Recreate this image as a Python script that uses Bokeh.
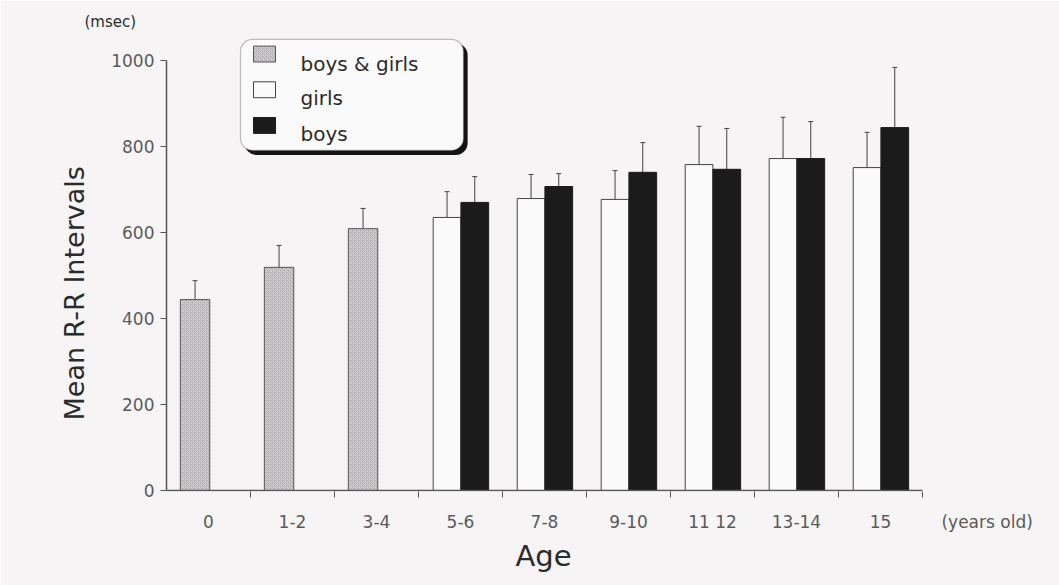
from bokeh.plotting import figure
from bokeh.models import (Range1d, FixedTicker, CustomJSTickFormatter, Whisker,
                          ColumnDataSource, TeeHead, BoxAnnotation, Title)
from bokeh.core.properties import value
from bokeh.embed import file_html
from bokeh.resources import INLINE

# Age groups (one slot each on the x axis)
age_groups = ["0", "1-2", "3-4", "5-6", "7-8", "9-10", "11 12", "13-14", "15"]
age_unit = "(years old)"

# Mean R-R intervals (msec) and SD, ages 0-4: boys and girls together
mixed_idx = [0, 1, 2]
mixed_mean = [444, 519, 609]
mixed_sd = [44, 51, 47]

# Ages 5-15: girls and boys separately
split_idx = [3, 4, 5, 6, 7, 8]
girls_mean = [635, 679, 677, 758, 772, 751]
girls_sd = [60, 56, 67, 89, 96, 82]
boys_mean = [670, 707, 740, 747, 772, 844]
boys_sd = [60, 30, 69, 95, 86, 140]

y_ticks = [0, 200, 400, 600, 800, 1000]
legend_labels = ["boys & girls", "girls", "boys"]

FONT = "DejaVu Sans"
BG = "#f6f4f5"
INK = "#2b2b2b"
GREY_TXT = "#5a5a5a"
AXIS = "#555555"

n = len(age_groups)

p = figure(width=1059, height=585, output_backend="svg", toolbar_location=None,
           x_range=Range1d(0, 10.524), y_range=Range1d(-2.3, 1069.8),
           min_border_left=166, min_border_right=9, min_border_top=30,
           min_border_bottom=94)
p.background_fill_color = BG
p.border_fill_color = BG
p.outline_line_color = None
p.grid.visible = False

# bar positions inside each slot
mixed_x = [i + 0.34 for i in mixed_idx]
girls_x = [i + 0.34 for i in split_idx]
boys_x = [i + 0.67 for i in split_idx]

src_mixed = ColumnDataSource(dict(x=mixed_x, top=mixed_mean,
                                  up=[m + s for m, s in zip(mixed_mean, mixed_sd)]))
src_girls = ColumnDataSource(dict(x=girls_x, top=girls_mean,
                                  up=[m + s for m, s in zip(girls_mean, girls_sd)]))
src_boys = ColumnDataSource(dict(x=boys_x, top=boys_mean,
                                 up=[m + s for m, s in zip(boys_mean, boys_sd)]))

# SD whiskers (upper side only)
for src in (src_mixed, src_girls, src_boys):
    p.add_layout(Whisker(source=src, base="x", lower="top", upper="up",
                         dimension="height", line_color="#444444", line_width=1,
                         upper_head=TeeHead(size=5, line_color="#444444",
                                            line_width=1),
                         lower_head=None))

mixed_style = dict(fill_color="#b5b3b5", line_color="#555555", line_width=1,
                   hatch_pattern="diagonal_cross", hatch_color="#d8d6d8",
                   hatch_scale=4, hatch_weight=1)
girls_style = dict(fill_color="#fbfafa", line_color="#444444", line_width=1)
boys_style = dict(fill_color="#1c1b1c", line_color="#1c1b1c", line_width=1)

p.vbar(x="x", top="top", bottom=0, width=0.35, source=src_mixed, **mixed_style)
p.vbar(x="x", top="top", bottom=0, width=0.33, source=src_girls, **girls_style)
p.vbar(x="x", top="top", bottom=0, width=0.33, source=src_boys, **boys_style)

# baseline of the age axis (covers the age slots only)
p.segment(x0=[0], y0=[0], x1=[n], y1=[0], line_color=AXIS, line_width=1.5)

# x axis: labels centred in each slot, unit note after the last slot,
# small ticks at slot boundaries
x_tick_pos = [i + 0.5 for i in range(n)] + [9.77]
x_tick_txt = age_groups + [age_unit]
xa = p.xaxis[0]
xa.ticker = FixedTicker(ticks=x_tick_pos, minor_ticks=list(range(1, n + 1)))
xa.formatter = CustomJSTickFormatter(
    args=dict(pos=x_tick_pos, txt=x_tick_txt),
    code="""
        let best = 0;
        for (let i = 1; i < pos.length; i++)
            if (Math.abs(pos[i] - tick) < Math.abs(pos[best] - tick)) best = i;
        return txt[best];
    """)
xa.axis_line_color = None
xa.major_tick_line_color = None
xa.major_tick_out = 0
xa.minor_tick_out = 6
xa.minor_tick_in = 0
xa.minor_tick_line_color = AXIS
xa.major_label_standoff = 14
xa.major_label_text_font = FONT
xa.major_label_text_font_size = "17px"
xa.major_label_text_color = GREY_TXT

ya = p.yaxis[0]
ya.ticker = FixedTicker(ticks=y_ticks, minor_ticks=[])
ya.bounds = (0, 1000)
ya.major_tick_out = 6
ya.major_tick_in = 0
ya.major_tick_line_color = AXIS
ya.axis_line_color = AXIS
ya.axis_line_width = 1.5
ya.major_label_standoff = 6
ya.major_label_text_font = FONT
ya.major_label_text_font_size = "17px"
ya.major_label_text_color = GREY_TXT

# axis titles and unit note
p.add_layout(Title(text="Mean R-R Intervals", align="left", offset=71,
                   standoff=38, text_font=FONT, text_font_size="27px",
                   text_font_style="normal", text_color=INK), "left")
p.add_layout(Title(text="Age", align="left", offset=349, standoff=4,
                   text_font=FONT, text_font_size="29px",
                   text_font_style="normal", text_color=INK), "below")
p.add_layout(Title(text="(msec)", align="left", offset=-82, standoff=0,
                   text_font=FONT, text_font_size="15px",
                   text_font_style="normal", text_color=INK), "above")

# legend panel with a drop shadow
p.add_layout(BoxAnnotation(left=0.93, right=3.585, bottom=780, top=1040,
                           fill_color="#141414", fill_alpha=1, line_color=None,
                           border_radius=12, level="annotation"))
p.add_layout(BoxAnnotation(left=0.881, right=3.536, bottom=791, top=1049,
                           fill_color="#fbfafa", fill_alpha=1,
                           line_color="#333333", line_width=1.2,
                           border_radius=12, level="annotation"))

# legend keys and labels
key_y = [1015, 932, 849]
text_y = [993, 912, 828]
for ky, st in zip(key_y, (mixed_style, girls_style, boys_style)):
    p.rect(x=1.167, y=ky, width=0.262, height=37, level="overlay", **st)
p.text(x=[1.595] * 3, y=text_y, text=legend_labels, level="overlay",
       text_font=value(FONT), text_font_size="20px", text_color=INK,
       text_baseline="middle", text_align="left")

open("out.html", "w").write(file_html(p, INLINE))
